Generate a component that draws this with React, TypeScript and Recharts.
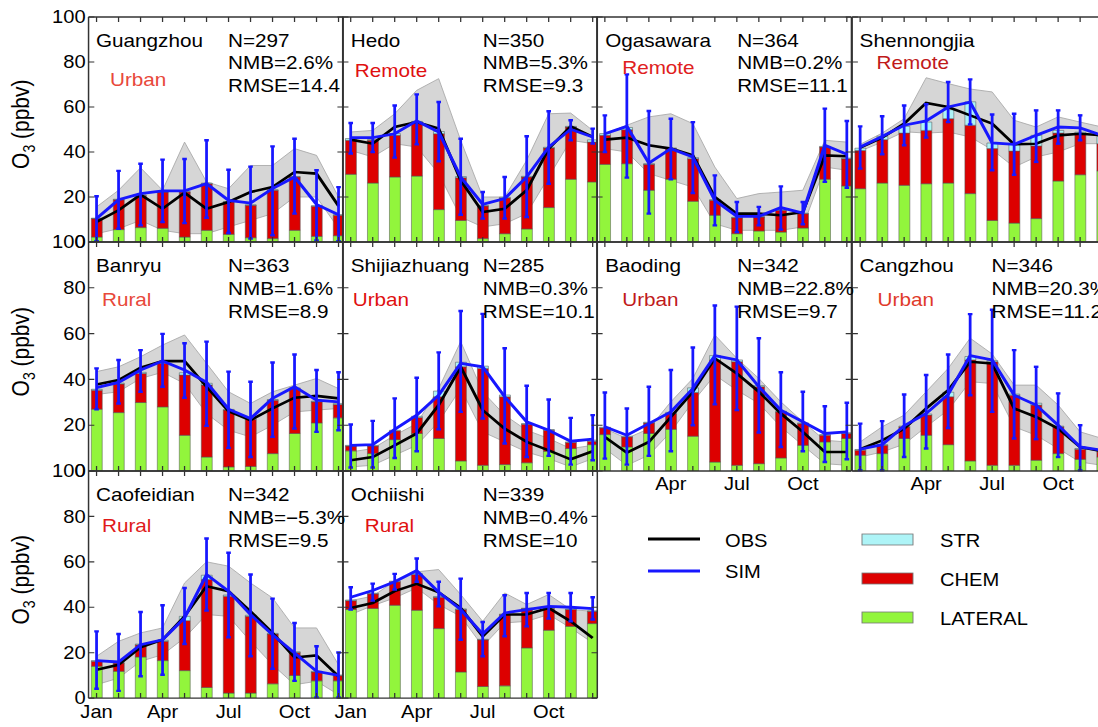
import { ComposedChart, Bar, Line, Area, XAxis, YAxis, ErrorBar } from "recharts";

// the original figure is stretched horizontally; we draw in unstretched units and scale
const S = 1.15;
const FONT = '"Liberation Sans", Arial, Helvetica, sans-serif';

const MONTH_POS = [0, 1, 2, 3, 4, 5, 6, 7, 8, 9, 10, 11];
const MONTH_NAMES = ["Jan", "Feb", "Mar", "Apr", "May", "Jun", "Jul", "Aug", "Sep", "Oct", "Nov", "Dec"];
const Y_TICKS = [0, 20, 40, 60, 80, 100];

// Guangzhou
const gzLat = [2.2, 5.5, 6.4, 6.1, 2.2, 5.2, 3.4, 1.9, 1.5, 5.2, 2.5, 2.8];
const gzChem = [8.2, 13.3, 14.3, 16.1, 20.0, 20.7, 14.4, 14.4, 21.5, 23.7, 13.4, 9.1];
const gzStr = [0.2, 0.2, 0.2, 0.2, 0.2, 0.3, 0.2, 0.2, 0.2, 0.2, 0.2, 0.2];
const gzObs = [8.9, 14.1, 21.0, 14.8, 21.9, 14.8, 17.8, 22.2, 24.4, 31.1, 30.4, 16.0];
const gzLo = [3.7, 5.9, 9.6, 5.2, 3.7, 3.7, 6.7, 9.6, 12.6, 20.0, 20.0, 6.0];
const gzHi = [15.6, 23.0, 33.0, 23.0, 44.4, 26.7, 23.7, 34.0, 34.0, 41.5, 38.5, 20.0];
const gzSim = [10.4, 18.8, 21.5, 22.7, 22.7, 25.9, 18.5, 17.3, 23.7, 28.9, 16.7, 12.1];
const gzErrLo = [0.4, 5.9, 7.4, 8.9, 8.4, 10.8, 4.0, 1.5, 3.0, 12.6, 0.7, 0.4];
const gzErrHi = [20.3, 31.6, 34.8, 36.6, 36.9, 45.2, 32.1, 33.5, 42.5, 45.9, 31.9, 24.4];

// Hedo
const hdLat = [30.1, 26.2, 28.9, 29.3, 14.4, 9.6, 1.5, 3.7, 5.8, 15.3, 27.9, 26.7];
const hdChem = [15.1, 19.0, 18.5, 24.0, 33.7, 19.0, 14.5, 15.9, 23.1, 26.5, 23.2, 17.7];
const hdStr = [0.8, 0.3, 0.8, 0.3, 1.0, 0.5, 0.3, 0.3, 0.3, 0.3, 0.3, 1.0];
const hdObs = [45.5, 43.7, 51.1, 53.3, 50.4, 27.4, 13.3, 14.8, 23.0, 41.5, 51.4, 46.7];
const hdLo = [40.7, 37.8, 43.7, 42.2, 30.4, 11.1, 6.7, 8.1, 12.6, 28.9, 45.2, 43.7];
const hdHi = [48.9, 49.6, 57.0, 67.4, 72.6, 45.2, 20.0, 20.0, 36.3, 57.0, 57.3, 49.6];
const hdSim = [46.4, 46.4, 48.1, 53.8, 48.9, 28.9, 16.7, 19.3, 28.9, 42.2, 50.1, 46.7];
const hdErrLo = [39.3, 40.0, 37.5, 43.4, 35.9, 12.1, 10.4, 10.4, 11.1, 25.9, 45.2, 43.7];
const hdErrHi = [52.9, 52.9, 60.7, 65.6, 62.2, 45.9, 22.2, 28.9, 47.0, 58.1, 54.1, 50.4];

// Ogasawara
const ogLat = [34.5, 34.8, 23.0, 27.9, 18.1, 11.9, 3.7, 4.9, 4.4, 6.2, 27.9, 24.9];
const ogChem = [12.9, 15.1, 11.5, 13.6, 18.9, 6.6, 7.1, 6.2, 9.7, 6.4, 14.3, 12.1];
const ogStr = [0.8, 1.0, 0.3, 0.3, 0.5, 0.3, 0.2, 0.2, 0.2, 0.2, 0.3, 0.3];
const ogObs = [45.5, 46.4, 43.0, 41.5, 38.5, 20.0, 12.6, 12.6, 11.9, 13.3, 38.5, 38.1];
const ogLo = [41.5, 40.0, 30.4, 27.4, 24.4, 8.1, 5.2, 5.2, 5.2, 6.7, 33.3, 31.9];
const ogHi = [48.1, 51.9, 55.6, 57.0, 52.6, 33.3, 19.3, 21.5, 22.2, 23.0, 45.2, 44.4];
const ogSim = [48.1, 51.4, 35.1, 41.5, 37.8, 18.5, 11.4, 11.4, 15.3, 12.9, 43.0, 39.0];
const ogErrLo = [40.0, 28.6, 12.6, 27.9, 21.8, 7.4, 4.4, 7.4, 5.5, 7.9, 26.7, 24.1];
const ogErrHi = [56.3, 74.5, 58.2, 54.8, 53.3, 29.6, 17.8, 15.6, 24.7, 17.8, 59.3, 53.8];

// Shennongjia
const snLat = [23.7, 26.2, 25.2, 25.9, 26.2, 21.5, 9.6, 8.4, 10.4, 27.1, 29.9, 31.6];
const snChem = [17.0, 19.3, 23.2, 23.7, 28.6, 30.4, 31.9, 32.0, 32.3, 21.3, 18.2, 12.1];
const snStr = [1.0, 1.5, 3.0, 3.7, 4.0, 10.4, 2.5, 3.0, 4.7, 1.2, 0.7, 3.3];
const snObs = [41.9, 46.4, 52.6, 61.8, 60.0, 56.3, 52.6, 43.4, 43.7, 47.4, 48.1, 47.4];
const snLo = [40.4, 44.4, 49.0, 48.4, 48.9, 46.7, 41.0, 33.3, 37.8, 40.0, 43.7, 43.7];
const snHi = [43.4, 48.4, 54.8, 73.0, 70.4, 68.0, 66.7, 54.1, 51.1, 55.6, 53.3, 51.1];
const snSim = [42.2, 46.9, 51.9, 53.8, 60.0, 62.2, 44.0, 43.4, 47.4, 51.1, 50.7, 47.4];
const snErrLo = [32.6, 39.0, 43.0, 46.4, 53.3, 52.3, 31.9, 29.9, 35.6, 43.7, 45.2, 40.0];
const snErrHi = [51.4, 55.9, 60.7, 61.2, 71.1, 72.3, 56.7, 57.0, 58.5, 58.5, 56.3, 56.3];

// Banryu
const bnLat = [27.0, 25.5, 29.9, 28.0, 15.6, 6.1, 1.8, 2.0, 7.6, 16.4, 21.0, 23.2];
const bnChem = [8.3, 12.5, 12.7, 19.0, 26.3, 31.4, 24.8, 20.6, 23.3, 19.6, 9.2, 5.8];
const bnStr = [0.4, 0.4, 0.5, 0.5, 1.0, 0.8, 0.3, 0.3, 0.3, 0.3, 0.3, 0.5];
const bnObs = [37.8, 39.7, 45.1, 48.0, 48.0, 36.8, 26.1, 22.2, 27.3, 32.0, 32.8, 31.7];
const bnLo = [33.4, 34.6, 40.4, 43.1, 38.2, 25.1, 17.8, 14.9, 20.0, 25.8, 26.6, 27.3];
const bnHi = [43.4, 45.5, 49.9, 55.0, 59.4, 47.0, 34.6, 29.5, 34.6, 37.5, 40.4, 36.0];
const bnSim = [36.4, 38.7, 44.1, 48.0, 44.1, 38.7, 27.0, 22.9, 31.7, 36.8, 30.9, 30.2];
const bnErrLo = [26.9, 29.5, 34.6, 36.8, 32.0, 19.7, 10.1, 6.1, 14.9, 18.5, 17.1, 17.8];
const bnErrHi = [44.8, 48.5, 52.8, 59.9, 55.8, 56.5, 43.4, 39.0, 47.4, 50.9, 44.1, 43.1];

// Shijiazhuang
const sjLat = [8.8, 7.6, 13.7, 16.4, 14.2, 4.4, 2.5, 2.8, 3.6, 8.6, 9.8, 11.5];
const sjChem = [2.1, 3.3, 3.8, 7.0, 18.2, 41.1, 42.3, 29.6, 16.8, 9.2, 2.6, 1.5];
const sjStr = [0.3, 0.3, 0.3, 0.5, 2.5, 2.0, 1.0, 0.8, 0.3, 0.3, 0.3, 0.5];
const sjObs = [4.7, 6.1, 11.2, 16.4, 28.8, 45.5, 26.6, 18.5, 12.7, 9.0, 5.1, 8.6];
const sjLo = [1.8, 2.5, 6.9, 11.2, 21.5, 36.0, 17.1, 12.7, 8.3, 5.4, 1.8, 5.4];
const sjHi = [8.3, 9.8, 15.6, 20.7, 36.0, 56.5, 34.6, 24.4, 17.8, 14.2, 9.8, 11.2];
const sjSim = [11.2, 11.5, 18.2, 24.4, 33.1, 47.0, 45.5, 32.4, 21.5, 17.8, 13.0, 13.9];
const sjErrLo = [1.5, 1.5, 5.7, 8.6, 18.2, 25.8, 22.9, 12.0, 6.1, 6.6, 2.8, 4.7];
const sjErrHi = [20.3, 21.9, 31.7, 40.7, 51.8, 69.9, 68.6, 53.6, 37.2, 31.2, 23.2, 24.4];

// Baoding
const bdLat = [15.9, 10.5, 16.4, 18.2, 15.2, 3.9, 2.5, 3.2, 5.7, 11.2, 12.7, 14.2];
const bdChem = [2.9, 4.4, 4.6, 6.9, 19.1, 44.6, 45.2, 33.6, 20.1, 9.5, 2.9, 2.2];
const bdStr = [0.3, 0.3, 0.3, 0.5, 2.0, 1.9, 0.8, 0.5, 0.3, 0.3, 0.3, 0.3];
const bdObs = [14.9, 8.0, 12.7, 23.6, 34.6, 49.2, 42.6, 34.6, 25.1, 17.1, 8.3, 8.3];
const bdLo = [9.8, 2.5, 6.9, 17.1, 30.2, 41.9, 35.3, 29.5, 19.3, 11.2, 3.2, 2.5];
const bdHi = [18.5, 14.2, 18.5, 30.2, 40.4, 59.4, 49.2, 40.4, 30.2, 21.5, 13.4, 12.7];
const bdSim = [19.3, 15.6, 20.7, 25.8, 36.0, 50.4, 48.5, 36.8, 26.6, 21.5, 16.4, 17.1];
const bdErrLo = [5.4, 2.8, 6.6, 8.6, 20.0, 29.1, 26.6, 16.8, 10.5, 8.6, 3.9, 5.1];
const bdErrHi = [34.3, 27.3, 36.8, 44.1, 53.9, 72.3, 71.8, 58.0, 43.1, 34.6, 28.3, 29.8];

// Cangzhou
const czLat = [6.9, 7.6, 14.2, 15.6, 11.5, 4.4, 2.5, 2.5, 4.7, 7.6, 5.1, 6.1];
const czChem = [2.2, 3.6, 5.1, 8.8, 20.9, 44.1, 45.2, 30.6, 24.1, 11.7, 4.4, 2.2];
const czStr = [0.3, 0.3, 0.3, 0.5, 2.0, 1.5, 0.5, 0.5, 0.8, 0.3, 0.3, 0.3];
const czObs = [9.5, 13.4, 18.5, 27.3, 35.3, 47.7, 47.0, 27.3, 23.6, 18.5, 10.5, 8.6];
const czLo = [6.1, 8.3, 11.7, 19.3, 26.6, 39.0, 38.2, 19.3, 15.6, 9.8, 3.9, 2.5];
const czHi = [12.7, 19.3, 24.4, 34.6, 44.8, 58.0, 51.1, 37.5, 37.5, 28.8, 17.1, 14.2];
const czSim = [9.5, 11.5, 19.7, 25.1, 33.4, 50.4, 48.5, 33.1, 28.8, 20.0, 10.5, 9.1];
const czErrLo = [0.3, 0.3, 6.1, 9.8, 18.8, 33.1, 25.8, 14.2, 13.9, 6.1, 0.3, 1.0];
const czErrHi = [20.7, 21.8, 33.4, 41.9, 50.9, 68.5, 70.4, 52.8, 45.5, 33.9, 20.0, 18.0];

// Caofeidian
const cfLat = [14.0, 11.8, 18.1, 16.5, 12.1, 4.7, 2.2, 2.2, 6.3, 10.0, 7.6, 7.6];
const cfChem = [2.2, 3.6, 5.4, 8.5, 22.0, 47.5, 42.7, 33.8, 21.9, 10.1, 3.9, 2.3];
const cfStr = [0.3, 0.3, 0.3, 0.5, 1.9, 1.9, 0.5, 0.5, 0.3, 0.3, 0.3, 0.3];
const cfObs = [12.5, 14.7, 22.4, 25.7, 36.0, 49.3, 47.1, 38.2, 28.7, 17.9, 18.8, 9.6];
const cfLo = [5.9, 8.8, 16.2, 19.1, 26.5, 36.8, 36.0, 25.0, 14.7, 5.9, 7.4, 1.5];
const cfHi = [18.4, 25.0, 28.7, 30.9, 50.7, 60.0, 58.1, 50.7, 44.1, 30.9, 30.9, 14.7];
const cfSim = [16.5, 15.9, 23.5, 25.7, 35.3, 54.4, 47.1, 36.8, 27.9, 19.9, 11.8, 10.0];
const cfErrLo = [4.1, 3.2, 9.6, 10.3, 23.8, 38.5, 26.8, 18.4, 12.9, 7.6, 0.3, 0.3];
const cfErrHi = [29.4, 28.2, 37.9, 40.9, 48.5, 70.3, 64.0, 54.4, 43.8, 33.1, 22.8, 20.1];

// Ochiishi
const ocLat = [39.0, 39.5, 40.9, 38.7, 30.6, 11.5, 5.1, 5.4, 22.1, 29.9, 31.6, 32.8];
const ocChem = [3.9, 6.4, 10.3, 15.7, 13.8, 27.5, 20.6, 31.4, 17.3, 9.5, 7.4, 5.4];
const ocStr = [0.3, 0.3, 0.3, 0.5, 0.3, 0.3, 0.2, 0.2, 0.2, 0.2, 0.2, 0.2];
const ocObs = [39.7, 41.9, 47.1, 50.3, 46.6, 39.7, 27.2, 36.8, 36.8, 39.7, 33.8, 26.5];
const ocLo = [36.8, 40.7, 44.1, 48.5, 41.2, 36.0, 22.8, 33.1, 33.8, 36.8, 30.9, 24.3];
const ocHi = [42.9, 44.9, 51.5, 55.6, 56.6, 45.6, 33.8, 46.3, 41.2, 45.6, 39.0, 38.2];
const ocSim = [44.4, 47.4, 51.2, 56.2, 46.6, 39.0, 28.2, 37.5, 39.0, 40.4, 40.0, 39.4];
const ocErrLo = [39.0, 42.9, 47.8, 51.2, 40.4, 25.7, 18.4, 27.2, 31.6, 35.0, 33.8, 34.6];
const ocErrHi = [48.8, 50.4, 54.7, 61.5, 51.2, 52.6, 33.5, 45.3, 46.3, 46.3, 46.3, 44.4];

const SITES = [
  { name: "Guangzhou", kind: "Urban", kindColor: "#e8483a", stats: ["N=297", "NMB=2.6%", "RMSE=14.4"], row: 0, col: 0, kx: 22, ky: 69, months: [], d: [gzLat, gzChem, gzStr, gzObs, gzLo, gzHi, gzSim, gzErrLo, gzErrHi] },
  { name: "Hedo", kind: "Remote", kindColor: "#e01010", stats: ["N=350", "NMB=5.3%", "RMSE=9.3"], row: 0, col: 1, kx: 12, ky: 60, months: [], d: [hdLat, hdChem, hdStr, hdObs, hdLo, hdHi, hdSim, hdErrLo, hdErrHi] },
  { name: "Ogasawara", kind: "Remote", kindColor: "#e02020", stats: ["N=364", "NMB=0.2%", "RMSE=11.1"], row: 0, col: 2, kx: 25, ky: 57, months: [], d: [ogLat, ogChem, ogStr, ogObs, ogLo, ogHi, ogSim, ogErrLo, ogErrHi] },
  { name: "Shennongjia", kind: "Remote", kindColor: "#c01a1a", stats: null, row: 0, col: 3, kx: 25, ky: 52, months: [], d: [snLat, snChem, snStr, snObs, snLo, snHi, snSim, snErrLo, snErrHi] },
  { name: "Banryu", kind: "Rural", kindColor: "#e8483a", stats: ["N=363", "NMB=1.6%", "RMSE=8.9"], row: 1, col: 0, kx: 14, ky: 64, months: [], d: [bnLat, bnChem, bnStr, bnObs, bnLo, bnHi, bnSim, bnErrLo, bnErrHi] },
  { name: "Shijiazhuang", kind: "Urban", kindColor: "#e01010", stats: ["N=285", "NMB=0.3%", "RMSE=10.1"], row: 1, col: 1, kx: 10, ky: 64, months: [], d: [sjLat, sjChem, sjStr, sjObs, sjLo, sjHi, sjSim, sjErrLo, sjErrHi] },
  { name: "Baoding", kind: "Urban", kindColor: "#c01a1a", stats: ["N=342", "NMB=22.8%", "RMSE=9.7"], row: 1, col: 2, kx: 25, ky: 64, months: ["Apr", "Jul", "Oct"], d: [bdLat, bdChem, bdStr, bdObs, bdLo, bdHi, bdSim, bdErrLo, bdErrHi] },
  { name: "Cangzhou", kind: "Urban", kindColor: "#e03a2a", stats: ["N=346", "NMB=20.3%", "RMSE=11.2"], row: 1, col: 3, kx: 26, ky: 64, months: ["Apr", "Jul", "Oct"], d: [czLat, czChem, czStr, czObs, czLo, czHi, czSim, czErrLo, czErrHi] },
  { name: "Caofeidian", kind: "Rural", kindColor: "#e01a1a", stats: ["N=342", "NMB=\u22125.3%", "RMSE=9.5"], row: 2, col: 0, kx: 14, ky: 61, months: ["Jan", "Apr", "Jul", "Oct"], d: [cfLat, cfChem, cfStr, cfObs, cfLo, cfHi, cfSim, cfErrLo, cfErrHi] },
  { name: "Ochiishi", kind: "Rural", kindColor: "#e01010", stats: ["N=339", "NMB=0.4%", "RMSE=10"], row: 2, col: 1, kx: 22, ky: 61, months: ["Jan", "Apr", "Jul", "Oct"], d: [ocLat, ocChem, ocStr, ocObs, ocLo, ocHi, ocSim, ocErrLo, ocErrHi] },
];

// panel geometry (screen px)
const COL_X = [88, 342.8, 597.2, 851.6];
const PLOT_W_PX = 254.6;
const ROW_Y = [16.7, 242.2, 471.2];
const ROW_H = [225, 229, 227.1];
const X_DOMAIN: [number, number] = [-0.364, 11.21];

const AX_L = 50;
const AX_R = 6;
const AX_T = 14;
const AX_B = 34;
const PLOT_W = PLOT_W_PX / S;

const GREEN = "#92f53c";
const RED = "#dd0000";
const CYAN = "#aef4f7";
const BLUE = "#1717ff";
const FRAME = "#333";

function buildRows(d: number[][]) {
  const [lat, chem, str, obs, lo, hi, sim, errLo, errHi] = d;
  return MONTH_POS.map((x, i) => ({
    x,
    lateral: lat[i],
    chem: chem[i],
    str: str[i],
    obs: obs[i],
    band: [lo[i], hi[i]],
    sim: sim[i],
    simErr: [sim[i] - errLo[i], errHi[i] - sim[i]],
  }));
}

const tickStyle = { fill: "#000", fontSize: 17.5, fontFamily: FONT };

function Panel({ site }: any) {
  const h = ROW_H[site.row];
  const rows = buildRows(site.d);
  const showY = site.col === 0;
  const monthFmt = (v: number) => (site.months.includes(MONTH_NAMES[v]) ? MONTH_NAMES[v] : "");
  const blank = () => "";
  return (
    <div style={{ position: "absolute", left: COL_X[site.col] / S - AX_L, top: ROW_Y[site.row] - AX_T }}>
      <ComposedChart
        width={AX_L + PLOT_W + AX_R}
        height={AX_T + h + AX_B}
        data={rows}
        margin={{ top: 0, right: 0, bottom: 0, left: 0 }}
      >
        <XAxis
          xAxisId="b"
          dataKey="x"
          type="number"
          domain={X_DOMAIN}
          allowDataOverflow
          ticks={MONTH_POS}
          interval={0}
          orientation="bottom"
          height={AX_B}
          tickSize={-5}
          tickMargin={12}
          tickFormatter={monthFmt}
          tick={tickStyle}
          axisLine={{ stroke: FRAME, strokeWidth: 1.3 }}
          tickLine={{ stroke: FRAME, strokeWidth: 1.1 }}
        />
        <XAxis
          xAxisId="t"
          dataKey="x"
          type="number"
          domain={X_DOMAIN}
          allowDataOverflow
          ticks={MONTH_POS}
          interval={0}
          orientation="top"
          height={AX_T}
          tickSize={-5}
          tickFormatter={blank}
          axisLine={{ stroke: FRAME, strokeWidth: 1.3 }}
          tickLine={{ stroke: FRAME, strokeWidth: 1.1 }}
        />
        <YAxis
          yAxisId="l"
          type="number"
          domain={[0, 100]}
          allowDataOverflow
          ticks={Y_TICKS}
          interval={0}
          orientation="left"
          width={AX_L}
          tickSize={-5}
          tickMargin={7.5}
          tickFormatter={showY ? (v: number) => String(v) : blank}
          tick={tickStyle}
          axisLine={{ stroke: FRAME, strokeWidth: 1.3 }}
          tickLine={{ stroke: FRAME, strokeWidth: 1.1 }}
        />
        <YAxis
          yAxisId="r"
          type="number"
          domain={[0, 100]}
          allowDataOverflow
          ticks={Y_TICKS}
          interval={0}
          orientation="right"
          width={AX_R}
          tickSize={-5}
          tickFormatter={blank}
          axisLine={{ stroke: FRAME, strokeWidth: 1.3 }}
          tickLine={{ stroke: FRAME, strokeWidth: 1.1 }}
        />
        <Area
          xAxisId="b"
          yAxisId="l"
          type="linear"
          dataKey="band"
          fill="#d6d6d6"
          fillOpacity={1}
          stroke="#a8a8a8"
          strokeWidth={0.8}
          isAnimationActive={false}
        />
        <Bar xAxisId="b" yAxisId="l" dataKey="lateral" stackId="s" barSize={9.5} fill={GREEN} stroke="#555" strokeWidth={0.5} isAnimationActive={false} />
        <Bar xAxisId="b" yAxisId="l" dataKey="chem" stackId="s" barSize={9.5} fill={RED} stroke="#555" strokeWidth={0.5} isAnimationActive={false} />
        <Bar xAxisId="b" yAxisId="l" dataKey="str" stackId="s" barSize={9.5} fill={CYAN} stroke="#555" strokeWidth={0.5} isAnimationActive={false} />
        <Line xAxisId="b" yAxisId="l" type="linear" dataKey="obs" stroke="#000" strokeWidth={2.6} dot={false} activeDot={false} isAnimationActive={false} />
        <Line xAxisId="b" yAxisId="l" type="linear" dataKey="sim" stroke={BLUE} strokeWidth={2.8} dot={false} activeDot={false} isAnimationActive={false}>
          <ErrorBar dataKey="simErr" direction="y" width={2} stroke={BLUE} strokeWidth={2.4} isAnimationActive={false} />
        </Line>
      </ComposedChart>
    </div>
  );
}

function Overlay() {
  const W = 1098 / S;
  const txt = { fontFamily: FONT, fontSize: 18 };
  return (
    <svg
      width={W}
      height={727}
      style={{ position: "absolute", left: 0, top: 0, pointerEvents: "none", overflow: "visible" }}
    >
      {SITES.map((s) => {
        const x0 = COL_X[s.col];
        const y0 = ROW_Y[s.row];
        return (
          <g key={s.name} style={txt}>
            <text x={(x0 + 8) / S} y={y0 + 30} fill="#000">{s.name}</text>
            <text x={(x0 + s.kx) / S} y={y0 + s.ky} fill={s.kindColor}>{s.kind}</text>
            {s.stats &&
              s.stats.map((t, i) => (
                <text key={t} x={(x0 + 140) / S} y={y0 + 30 + i * 22.8} fill="#000">{t}</text>
              ))}
          </g>
        );
      })}

      {ROW_Y.map((y, r) => {
        const cy = y + ROW_H[r] / 2 - 5;
        return (
          <text
            key={r}
            transform={`translate(${29 / S}, ${cy}) rotate(-90)`}
            textAnchor="middle"
            style={{ fontFamily: FONT, fontSize: 21 }}
            fill="#000"
          >
            O<tspan fontSize={14} dy={5}>3</tspan>
            <tspan dy={-5}> (ppbv)</tspan>
          </text>
        );
      })}

      {/* legend */}
      <g style={{ fontFamily: FONT, fontSize: 17.5 }}>
        <line x1={648 / S} x2={700 / S} y1={539} y2={539} stroke="#000" strokeWidth={3} />
        <text x={725 / S} y={547}>OBS</text>
        <line x1={648 / S} x2={700 / S} y1={571} y2={571} stroke={BLUE} strokeWidth={3} />
        <text x={725 / S} y={578}>SIM</text>

        <rect x={862 / S} y={534} width={51 / S} height={11} fill={CYAN} stroke="#777" strokeWidth={0.8} />
        <text x={940 / S} y={547}>STR</text>
        <rect x={862 / S} y={573} width={51 / S} height={11} fill={RED} stroke="#777" strokeWidth={0.8} />
        <text x={940 / S} y={586}>CHEM</text>
        <rect x={862 / S} y={612} width={51 / S} height={11} fill={GREEN} stroke="#777" strokeWidth={0.8} />
        <text x={940 / S} y={625}>LATERAL</text>
      </g>
    </svg>
  );
}

export default function App() {
  return (
    <div style={{ position: "absolute", left: 0, top: 0, width: 1098, height: 727, overflow: "hidden", background: "#fff" }}>
      <div
        style={{
          position: "absolute",
          left: 0,
          top: 0,
          width: 1098 / S,
          height: 727,
          transform: `scaleX(${S})`,
          transformOrigin: "0 0",
        }}
      >
        {SITES.map((s) => (
          <Panel key={s.name} site={s} />
        ))}
        <Overlay />
      </div>
    </div>
  );
}
